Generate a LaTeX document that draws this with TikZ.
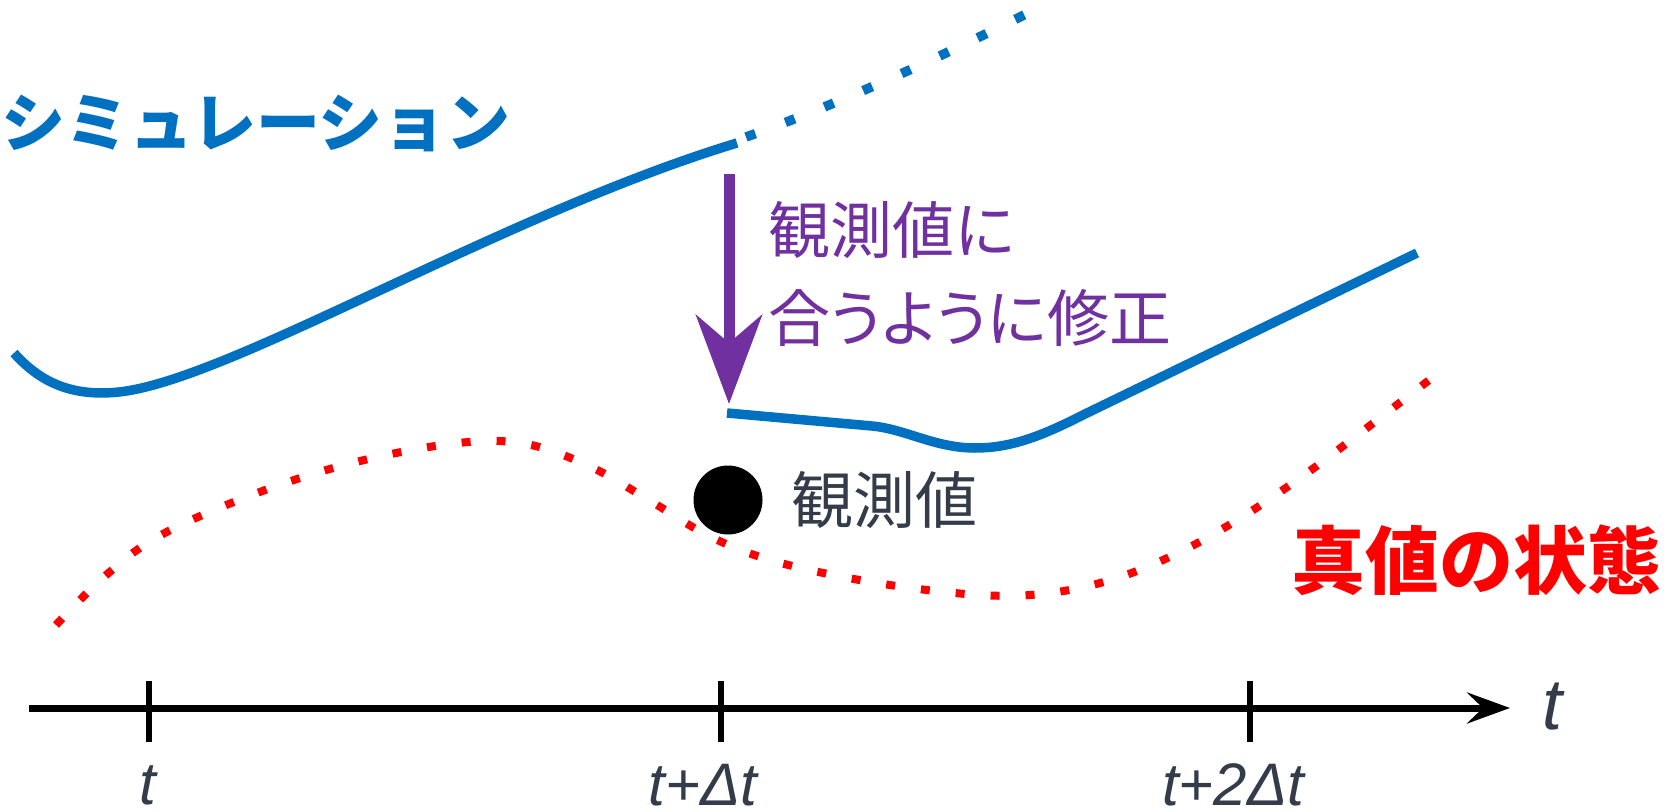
\documentclass[tikz,border=0pt]{standalone}
\usepackage{fontspec}
\setmainfont{Liberation Sans}
\newfontfamily\jp{Noto Sans CJK JP}
\newfontfamily\jpp[RawFeature=+palt]{Noto Sans CJK JP}
\usetikzlibrary{arrows.meta}
\definecolor{simblue}{HTML}{0070C0}
\definecolor{fixpurple}{HTML}{7030A0}
\definecolor{truered}{HTML}{FF0000}
\definecolor{labgray}{HTML}{333C48}
\tikzset{
  simline/.style={draw=simblue, line width=4.75pt},
  simdots/.style={draw=simblue, line width=4.75pt, dash pattern=on 5pt off 16pt},
  truedots/.style={draw=truered, line width=4pt, dash pattern=on 4.5pt off 13pt},
  fixarrow/.style={draw=fixpurple, fill=fixpurple, line width=5.5pt, -{Stealth[length=44.5pt,width=33pt,inset=14pt]}},
  axisline/.style={draw=black, line width=3.5pt, -{Stealth[length=21.5pt,width=15.5pt,inset=8pt]}},
  tickmark/.style={draw=black, line width=3pt},
  ticklab/.style={text=labgray, inner sep=0pt, font=\itshape\fontsize{30pt}{36pt}\selectfont},
  jptext/.style={inner sep=0pt, font=\jp\fontsize{31pt}{37pt}\selectfont}
}
\begin{document}
\begin{tikzpicture}[x=0.5pt,y=-0.5pt]
\useasboundingbox (0,0) rectangle (1673,812);
% simulation curve
\coordinate (simStart) at (14,353);
\coordinate (simEnd) at (737,143);
\draw[simline] (simStart) .. controls (45,388) and (80,396) .. (119,392) .. controls (230,380) and (500,215) .. (simEnd);
\coordinate (simFree) at (1030,12);
\draw[simdots] (746,137) .. controls (850,100) and (950,52) .. (simFree);
\node[jptext, text=simblue, font=\jp\bfseries\fontsize{32pt}{38pt}\selectfont] (simlab) at (256,123) {シミュレーション};
% correction arrow
\coordinate (arrowTop) at (729,174);
\coordinate (arrowTip) at (729,404);
\draw[fixarrow] (arrowTop) -- (arrowTip);
\node[jptext, text=fixpurple, anchor=west] (fix1) at (768,230) {観測値に};
\node[jptext, text=fixpurple, anchor=west, font=\jpp\fontsize{31pt}{37pt}\selectfont] (fix2) at (768,318) {合うように修正};
% corrected curve
\coordinate (corStart) at (727,413);
\coordinate (corEnd) at (1417,253);
\draw[simline] (corStart) -- (872,426) .. controls (905,429) and (935,448) .. (975,448) .. controls (1010,448) and (1040,437) .. (1085,414) -- (corEnd);
% true state
\draw[truedots] plot[smooth, tension=0.6] coordinates {(56,625) (105,576) (161,535) (257,493) (356,462) (458,443) (526,444) (591,467) (652,502) (711,537) (777,562) (877,583) (980,595) (1050,593) (1117,578) (1182,551) (1242,517) (1300,478) (1355,437) (1437,374)};
\node[jptext, text=truered, font=\jp\bfseries\fontsize{37pt}{44pt}\selectfont] (truelab) at (1476,560) {真値の状態};
% observation
\node[circle, fill=black, minimum size=34.5pt, inner sep=0pt] (obs) at (728,500) {};
\node[jptext, text=labgray, anchor=west] (obslab) at (791,500) {観測値};
% time axis
\coordinate (axStart) at (29,708);
\coordinate (axEnd) at (1510,708);
\draw[axisline] (axStart) -- (axEnd);
\foreach \n/\x in {t0/149, t1/721, t2/1250} {
  \coordinate (\n top) at (\x,681);
  \coordinate (\n bot) at (\x,742);
  \draw[tickmark] (\n top) -- (\n bot);
}
\node[ticklab] (lab0) at (148,785) {t};
\node[ticklab] (lab1) at (703,785) {t+Δt};
\node[ticklab] (lab2) at (1233,785) {t+2Δt};
\node[ticklab, font=\itshape\fontsize{36pt}{42pt}\selectfont] (axlab) at (1552,707) {t};
\end{tikzpicture}
\end{document}
